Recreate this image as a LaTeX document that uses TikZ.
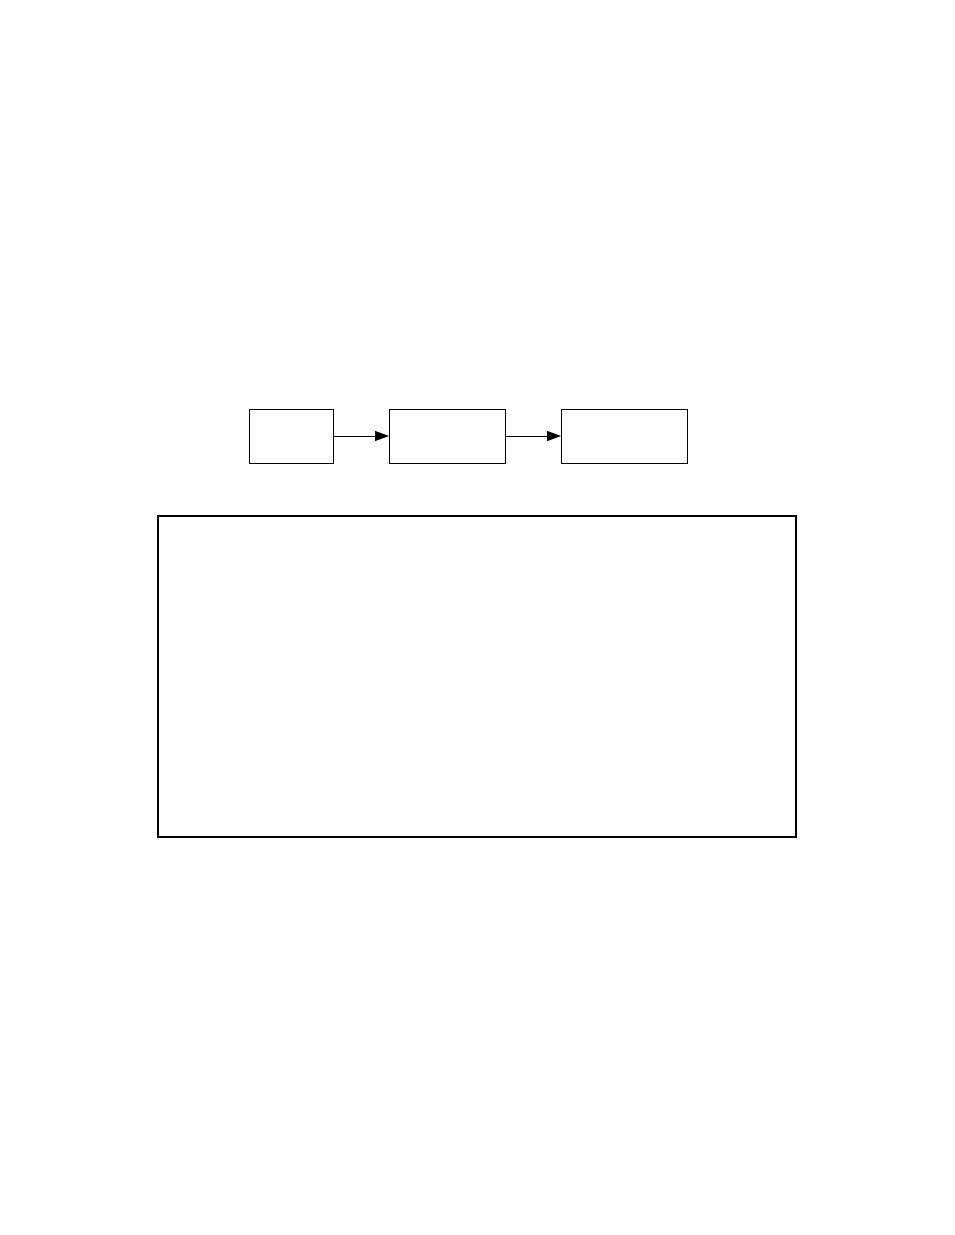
\documentclass[tikz,border=0pt]{standalone}
\usepackage{tikz}
\usetikzlibrary{positioning,arrows.meta}

\begin{document}
\begin{tikzpicture}[
  x=1pt, y=1pt,
  node distance = 56pt,
  blk/.style={rectangle, draw=black, line width=0.9pt, outer sep=0pt, minimum height=54pt},
  bigblk/.style={rectangle, draw=black, line width=1.3pt, outer sep=0pt, minimum width=638pt, minimum height=321pt},
  arw/.style={-{Triangle[length=14pt, width=10pt]}, line width=0.9pt}
  ]

\useasboundingbox (0,0) rectangle (954,-1235);

\node [blk, minimum width=84pt] (b1) at (291,-436) {};
\node [blk, minimum width=116pt, right=of b1] (b2) {};
\node [blk, minimum width=126pt, right=of b2] (b3) {};

\node [bigblk] (frame) at (477,-676.5) {};

\draw [arw] (b1) -- (b2);
\draw [arw] (b2) -- (b3);

\end{tikzpicture}
\end{document}
